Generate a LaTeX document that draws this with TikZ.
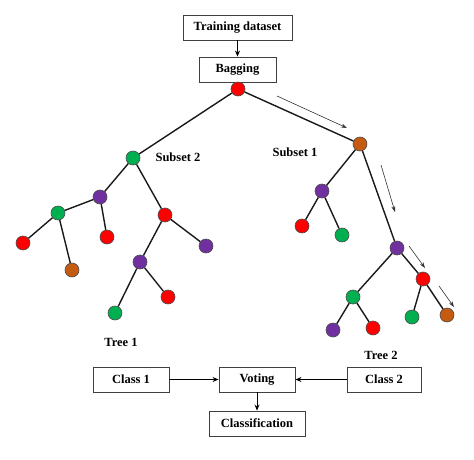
\documentclass[tikz,border=0pt]{standalone}
\usepackage{fontspec}
\setmainfont{Liberation Serif}
\usetikzlibrary{arrows.meta}
\definecolor{cred}{HTML}{FF0000}
\definecolor{cgreen}{HTML}{00B050}
\definecolor{cpurple}{HTML}{7030A0}
\definecolor{corange}{HTML}{C55A11}
\begin{document}
\begin{tikzpicture}[x=1pt,y=-1pt,
  box/.style={draw=black!75,line width=0.9pt,minimum height=25pt,inner sep=0pt,font=\fontsize{12.5}{14}\selectfont\bfseries},
  lbl/.style={font=\fontsize{12.5}{14}\selectfont\bfseries},
  nd/.style={circle,draw=black!70,line width=0.6pt,minimum size=14pt,inner sep=0pt},
  R/.style={nd,fill=cred}, G/.style={nd,fill=cgreen}, P/.style={nd,fill=cpurple}, O/.style={nd,fill=corange},
  edge/.style={line width=1.4pt,black!90},
  flow/.style={line width=0.9pt,-{Stealth[length=6pt,width=5pt]}},
  hint/.style={line width=0.6pt,black!80,-{Stealth[length=6pt,width=4pt]}}]
\useasboundingbox (0,0) rectangle (474,460);
% boxes
\node[box,minimum width=109pt] (train) at (237.5,27.5) {Training dataset};
\node[box,minimum width=77pt] (bag) at (237.5,69.5) {Bagging};
\node[box,minimum width=76pt] (c1) at (131,379.5) {Class 1};
\node[box,minimum width=76pt] (vote) at (257,379.5) {Voting};
\node[box,minimum width=74pt] (c2) at (384,379.5) {Class 2};
\node[box,minimum width=96pt] (cls) at (257,423.5) {Classification};
% tree nodes
\node[R] (root) at (238,89) {};
\node[G] (a) at (133,158) {};
\node[P] (a1) at (100,197) {};
\node[G] (a11) at (58,213) {};
\node[R] (a111) at (23,243) {};
\node[O] (a112) at (72,270) {};
\node[R] (a12) at (107,237) {};
\node[R] (a2) at (165,215) {};
\node[P] (a21) at (140,262) {};
\node[G] (a211) at (115,313) {};
\node[R] (a212) at (168,297) {};
\node[P] (a22) at (206,246) {};
\node[O] (b) at (360,144) {};
\node[P] (b1) at (322,191) {};
\node[R] (b11) at (302,226) {};
\node[G] (b12) at (342,235) {};
\node[P] (b2) at (397,248) {};
\node[G] (b21) at (353,297) {};
\node[P] (b211) at (333,330) {};
\node[R] (b212) at (373,328) {};
\node[R] (b22) at (423,279) {};
\node[G] (b221) at (412,317) {};
\node[O] (b222) at (447,315) {};
% edges
\foreach \u/\v in {root/a,root/b,a/a1,a/a2,a1/a11,a1/a12,a11/a111,a11/a112,a2/a21,a2/a22,a21/a211,a21/a212,
  b/b1,b/b2,b1/b11,b1/b12,b2/b21,b2/b22,b21/b211,b21/b212,b22/b221,b22/b222}
  \draw[edge] (\u) -- (\v);
% labels
\node[lbl] (s2) at (178,157) {Subset 2};
\node[lbl] (s1) at (295,152) {Subset 1};
\node[lbl] (t1) at (121,342) {Tree 1};
\node[lbl] (t2) at (381,355) {Tree 2};
% flow arrows
\draw[flow] (train) -- (bag);
\draw[flow] (c1) -- (vote);
\draw[flow] (c2) -- (vote);
\draw[flow] (vote) -- (cls);
% hint arrows
\coordinate (h1s) at (277,96); \coordinate (h1e) at (347,128);
\coordinate (h2s) at (381,165); \coordinate (h2e) at (395,212);
\coordinate (h3s) at (409,246); \coordinate (h3e) at (425,268);
\coordinate (h4s) at (439,286); \coordinate (h4e) at (454,307);
\draw[hint] (h1s) -- (h1e);
\draw[hint] (h2s) -- (h2e);
\draw[hint] (h3s) -- (h3e);
\draw[hint] (h4s) -- (h4e);
\end{tikzpicture}
\end{document}
